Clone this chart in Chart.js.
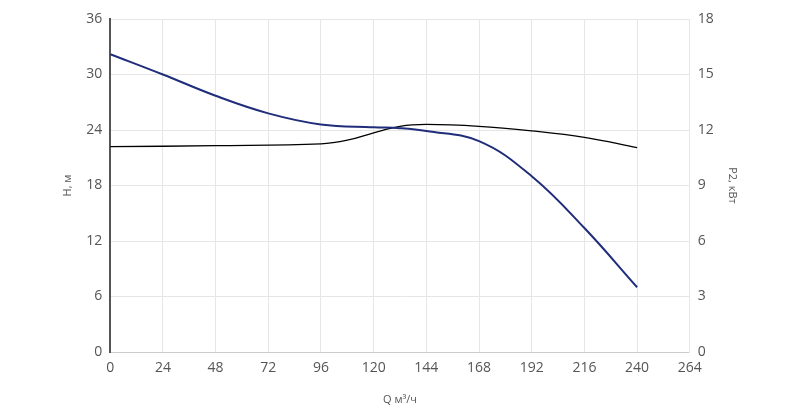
<!DOCTYPE html>
<html><head><meta charset="utf-8">
<script src="https://cdn.jsdelivr.net/npm/chart.js@4"></script>
<style>body{margin:0;background:#fff}#wrap{width:800px;height:408px}</style>
</head><body><div id="wrap"><canvas id="c"></canvas></div>
<script>
const qValues = [0, 24, 48, 72, 96, 120, 132, 144, 168, 192, 216, 240];
const headValues = [32.2, 30.0, 27.7, 25.8, 24.6, 24.3, 24.2, 23.9, 22.8, 19.0, 13.4, 7.0];
const powerQ = [0, 48, 96, 108, 120, 132, 144, 168, 192, 216, 240];
const powerValues = [11.1, 11.15, 11.25, 11.45, 11.85, 12.2, 12.3, 12.2, 11.95, 11.6, 11.05];

new Chart(document.getElementById('c'), {
  type: 'line',
  data: {
    datasets: [{
      data: qValues.map((q, i) => ({x: q, y: headValues[i]})),
      borderColor: '#1f2d7a', borderWidth: 2, pointRadius: 0, tension: 0.4, yAxisID: 'y'
    }, {
      data: powerQ.map((q, i) => ({x: q, y: powerValues[i]})),
      borderColor: '#000', borderWidth: 1.3, pointRadius: 0, tension: 0.4, yAxisID: 'y2'
    }]
  },
  options: {
    responsive: true, maintainAspectRatio: false, animation: false,
    layout: {padding: {left: 57, right: 57, top: 19, bottom: 0}},
    plugins: {legend: {display: false}, tooltip: {enabled: false}},
    scales: {
      x: {
        type: 'linear', min: 0, max: 264,
        ticks: {stepSize: 24, color: '#555', font: {family: 'Open Sans', size: 14}, padding: 8},
        grid: {color: '#e6e6e6', drawTicks: false},
        border: {color: '#ccc'},
        title: {display: true, text: 'Q м³/ч', color: '#555', font: {family: 'Open Sans', size: 11}, padding: {top: 8, bottom: 2}}
      },
      y: {
        min: 0, max: 36,
        ticks: {stepSize: 6, color: '#555', font: {family: 'Open Sans', size: 14}, padding: 8},
        grid: {color: '#e6e6e6', drawTicks: false},
        border: {color: '#555', width: 2},
        title: {display: true, text: 'H, м', color: '#555', font: {family: 'Open Sans', size: 11}}
      },
      y2: {
        position: 'right', min: 0, max: 18,
        ticks: {stepSize: 3, color: '#555', font: {family: 'Open Sans', size: 14}, padding: 8},
        grid: {display: false, drawTicks: false},
        border: {color: '#e6e6e6'},
        title: {display: true, text: 'P2, кВт', color: '#555', font: {family: 'Open Sans', size: 11}}
      }
    }
  }
});
</script></body></html>
